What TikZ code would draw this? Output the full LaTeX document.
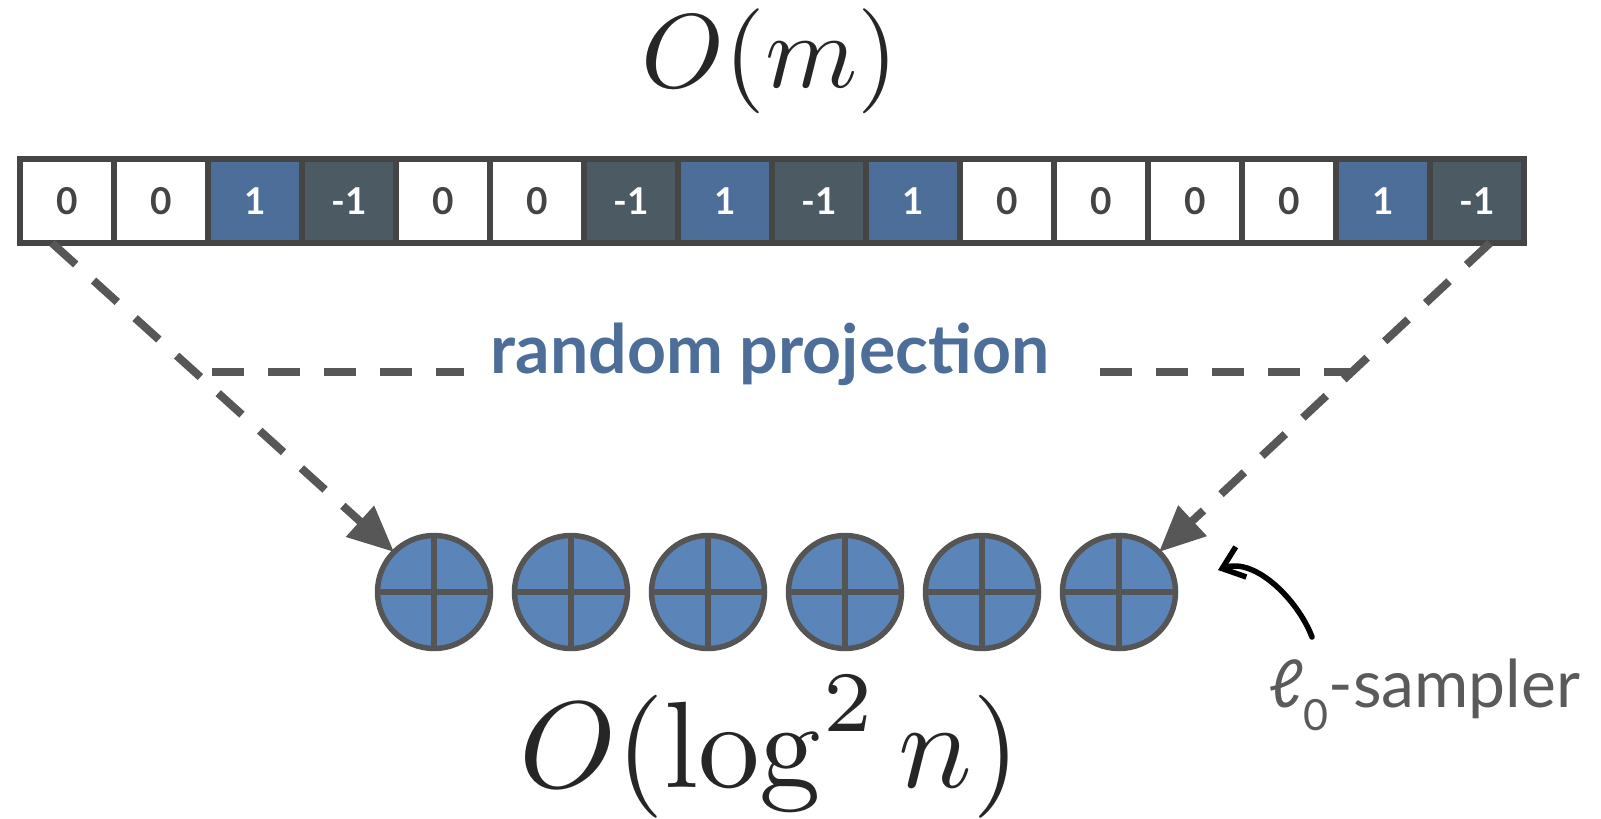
\documentclass[tikz,border=0pt]{standalone}
\usepackage[no-math]{fontspec}
\newfontfamily\lato{Lato}
\usetikzlibrary{arrows.meta}

\definecolor{cellblue}{HTML}{4D6E99}
\definecolor{celldark}{HTML}{4B5A63}
\definecolor{cellline}{HTML}{454545}
\definecolor{celltext}{HTML}{444444}
\definecolor{dashgray}{HTML}{575757}
\definecolor{discblue}{HTML}{5B84B8}
\definecolor{discline}{HTML}{555555}
\definecolor{labelgray}{HTML}{5A5A5A}

\tikzset{
  cellbox/.style={draw=cellline, line width=6pt, minimum width=94pt, minimum height=84pt,
    inner sep=0pt, outer sep=0pt, font=\lato\bfseries\fontsize{37}{37}\selectfont},
  zcell/.style={cellbox, fill=white, text=celltext},
  pcell/.style={cellbox, fill=cellblue, text=white},
  ncell/.style={cellbox, fill=celldark, text=white},
  disc/.style={circle, draw=discline, fill=discblue, line width=5.5pt, minimum size=113pt,
    inner sep=0pt, outer sep=0pt},
  proj/.style={draw=dashgray, line width=8pt, dash pattern=on 32pt off 24pt},
  projtip/.style={-{Triangle[length=46pt,width=40pt]}},
}

\begin{document}
\begin{tikzpicture}[x=1pt, y=-1pt]
\useasboundingbox (0,0) rectangle (1601,819);

\node[scale=10.5, anchor=base, text=black!85] (om) at (770,87) {$O(m)$};
\foreach \v/\s [count=\i] in {0/zcell, 0/zcell, 1/pcell, -1/ncell, 0/zcell, 0/zcell, -1/ncell, 1/pcell,
    -1/ncell, 1/pcell, 0/zcell, 0/zcell, 0/zcell, 0/zcell, 1/pcell, -1/ncell}
  \node[\s] (c\i) at ({67+94*(\i-1)},201) {\v};

\foreach \i in {1,...,6} {
  \node[disc] (s\i) at ({434+137*(\i-1)},592) {};
  \draw[discline, line width=5.5pt] (s\i.north) -- (s\i.south) (s\i.west) -- (s\i.east);
}

\node[anchor=base, text=cellblue, inner sep=0pt, font=\lato\bfseries\fontsize{68}{68}\selectfont]
  (rp) at (770,373) {random projection};

\coordinate (pl) at (52,243);
\coordinate (pr) at (1490,243);
\coordinate (hl) at (212,372);
\coordinate (hm1) at (464,372);
\coordinate (hm2) at (1100,372);
\coordinate (hr) at (1352,372);
\draw[proj, projtip] (pl) -- (s1.135);
\draw[proj, projtip] (pr) -- (s6.45);
\draw[proj] (hl) -- (hm1);
\draw[proj] (hm2) -- (hr);

\node[anchor=base west, text=labelgray, inner sep=0pt, font=\lato\fontsize{66}{66}\selectfont]
  (sl) at (1268,707) {ℓ\raisebox{-23pt}{\fontsize{43}{43}\selectfont 0}-sampler};
\coordinate (sa) at (1312,637);
\coordinate (st) at (1218,570);
\draw[line width=5.5pt, line cap=round, -{Straight Barb[length=20pt,width=32pt]}]
  (sa) .. controls (1298,600) and (1255,557) .. (st);

\node[scale=12.3, anchor=base, text=black!85] (olog) at (770,787) {$O(\log^2 n)$};
\end{tikzpicture}
\end{document}
